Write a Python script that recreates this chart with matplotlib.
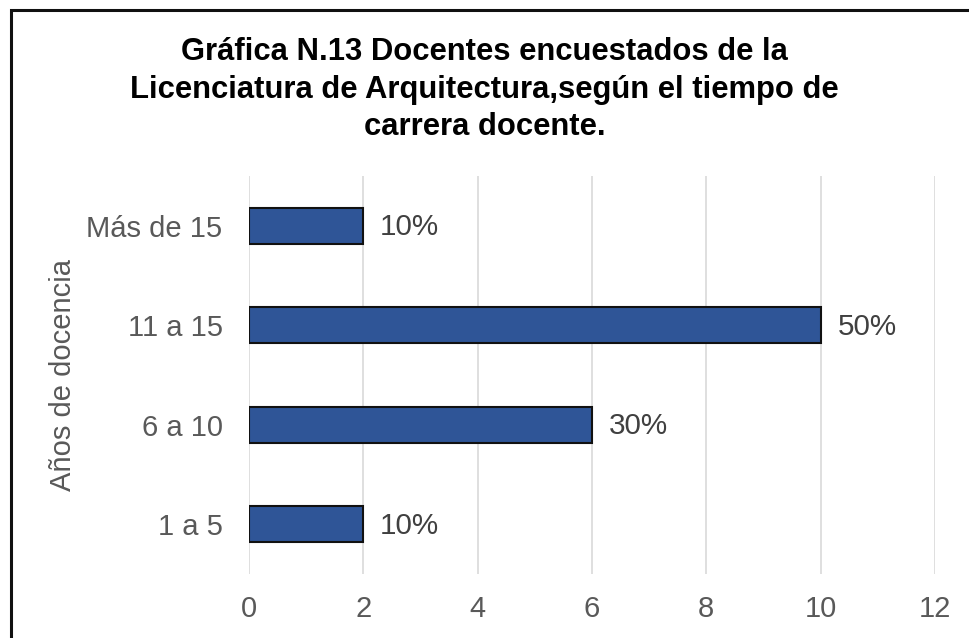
import matplotlib.pyplot as plt
from matplotlib.patches import Rectangle

categorias = ['1 a 5', '6 a 10', '11 a 15', 'Más de 15']
docentes = [2, 6, 10, 2]
porcentajes = ['10%', '30%', '50%', '10%']
xticks = [0, 2, 4, 6, 8, 10, 12]

plt.rcParams['font.family'] = ['Liberation Sans', 'DejaVu Sans']

fig = plt.figure(figsize=(9.69, 6.38), dpi=100)
ax = fig.add_axes([249/969, 1-574/638, (935-249)/969, (574-176)/638])

y = range(len(categorias))
bars = ax.barh(y, docentes, height=0.36, color='#2F5597', edgecolor='#111111', linewidth=1.5, zorder=3)

for b, p in zip(bars, porcentajes):
    ax.annotate(p, xy=(b.get_width(), b.get_y()+b.get_height()/2),
                xytext=(12, -1), textcoords='offset points',
                va='center', ha='left', fontsize=21.3, color='#404040')

ax.set_xlim(0, 12)
ax.set_ylim(-0.5, 3.5)
ax.set_xticks(xticks)
ax.set_xticklabels([str(t) for t in xticks])
ax.set_yticks(list(y))
ax.set_yticklabels(categorias)
ax.tick_params(axis='both', length=0, labelsize=21, labelcolor='#595959')
ax.tick_params(axis='x', pad=15)
ax.tick_params(axis='y', pad=19)
ax.grid(axis='x', color='#D9D9D9', linewidth=1.2, zorder=0)
for s in ax.spines.values():
    s.set_visible(False)

ax.set_ylabel('Años de docencia', fontsize=21, color='#595959', labelpad=7)

fig.text(0.5, 1-37/638,
         'Gráfica N.13 Docentes encuestados de la\n'
         'Licenciatura de Arquitectura,según el tiempo de\n'
         'carrera docente.',
         ha='center', va='top', fontsize=22.3, fontweight='bold', linespacing=1.33)

# marco de la figura
fig.patches.append(Rectangle((11/969, -0.05), 1.2, 1.05-10/638, transform=fig.transFigure,
                             fill=False, edgecolor='#111111', linewidth=2.2))

fig.savefig('out.png', dpi=100)
